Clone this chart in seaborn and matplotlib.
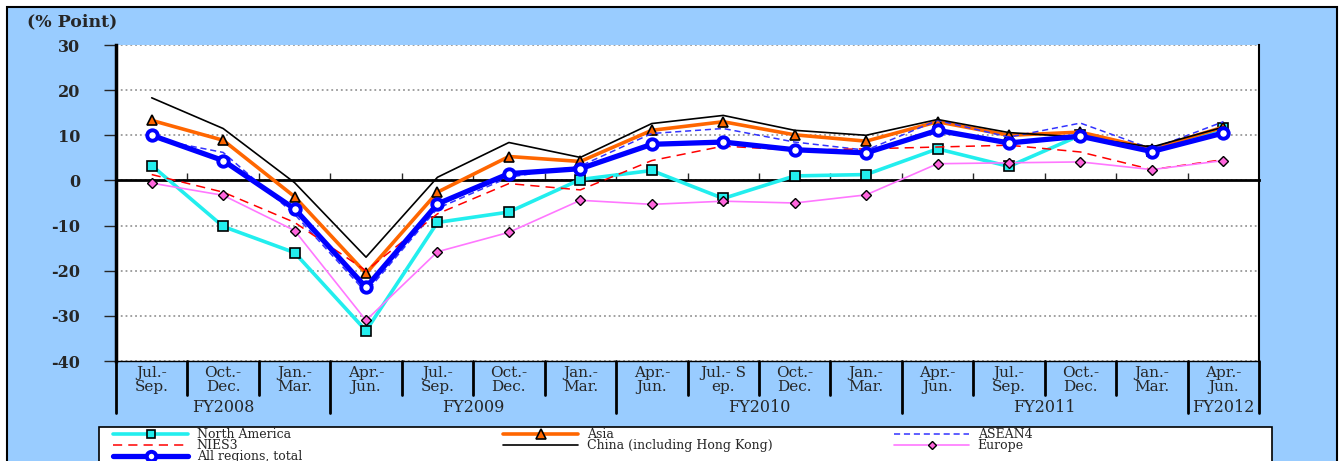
import numpy as np
import matplotlib
matplotlib.use("Agg")
import matplotlib.pyplot as plt
from matplotlib.patches import Rectangle
from matplotlib.transforms import blended_transform_factory
import seaborn as sns

# quarters on the x axis
quarters = ["Jul.-\nSep.", "Oct.-\nDec.", "Jan.-\nMar.", "Apr.-\nJun.",
            "Jul.-\nSep.", "Oct.-\nDec.", "Jan.-\nMar.", "Apr.-\nJun.",
            "Jul.- S\nep.", "Oct.-\nDec.", "Jan.-\nMar.", "Apr.-\nJun.",
            "Jul.-\nSep.", "Oct.-\nDec.", "Jan.-\nMar.", "Apr.-\nJun."]
fiscal_years = ["FY2008", "FY2009", "FY2010", "FY2011", "FY2012"]
fy_spans = [3, 4, 4, 4, 1]

# % point values
north_america = [3.3, -10.2, -16.0, -33.3, -9.3, -7.0, 0.2, 2.2, -4.0, 1.0, 1.3, 7.0, 3.1, 10.0, 6.5, 11.6]
asia = [13.3, 8.9, -3.6, -20.6, -2.6, 5.3, 4.2, 11.1, 13.0, 10.1, 8.7, 13.0, 10.0, 10.7, 7.0, 11.8]
asean4 = [9.3, 6.2, -7.5, -24.8, -6.2, 0.7, 3.2, 10.4, 11.5, 8.5, 6.7, 13.3, 9.6, 12.7, 7.0, 13.0]
nies3 = [1.3, -2.6, -9.3, -20.0, -7.4, -0.7, -2.1, 4.4, 7.6, 6.7, 7.0, 7.4, 7.8, 6.3, 2.4, 4.6]
china = [18.3, 11.5, -0.5, -17.0, 0.7, 8.4, 5.1, 12.6, 14.4, 11.1, 10.0, 13.5, 10.6, 9.6, 7.4, 11.8]
europe = [-0.6, -3.3, -11.1, -31.0, -15.8, -11.5, -4.4, -5.3, -4.6, -5.0, -3.2, 3.7, 3.9, 4.1, 2.4, 4.4]
total = [10.0, 4.4, -6.3, -23.7, -5.2, 1.5, 2.6, 8.0, 8.5, 6.8, 6.1, 11.1, 8.3, 9.8, 6.4, 10.5]

sns.set_style("white")
plt.rcParams["font.family"] = ["DejaVu Serif"]
plt.rcParams["axes.unicode_minus"] = False

W, H = 1341, 461
fig = plt.figure(figsize=(W / 100, H / 100), dpi=100)
fig.patch.set_facecolor("white")
fig.add_artist(Rectangle((7 / W, -0.1), (1337 - 7) / W, 1 - 7 / H + 0.1, transform=fig.transFigure,
                         facecolor="#99CCFF", edgecolor="black", lw=1.5, zorder=-1))

ax = fig.add_axes([116 / W, 1 - 361 / H, (1259 - 116) / W, (361 - 45) / H])
x = np.arange(len(quarters))

sns.lineplot(x=x, y=north_america, ax=ax, color="#22EEEE", lw=2.6, marker="s", ms=6.5,
             mfc="#22EEEE", mec="black", mew=1.2, label="North America", legend=False, zorder=3)
sns.lineplot(x=x, y=asia, ax=ax, color="#FF6600", lw=2.6, marker="^", ms=7.5,
             mfc="#FF6600", mec="black", mew=1.2, label="Asia", legend=False, zorder=3)
sns.lineplot(x=x, y=asean4, ax=ax, color="#3333FF", lw=1.1, linestyle=(0, (4, 2.5)),
             label="ASEAN4", legend=False, zorder=3)
sns.lineplot(x=x, y=nies3, ax=ax, color="#FF0000", lw=1.1, linestyle=(0, (6, 4)),
             label="NIES3", legend=False, zorder=3)
sns.lineplot(x=x, y=china, ax=ax, color="black", lw=1.2,
             label="China (including Hong Kong)", legend=False, zorder=3)
sns.lineplot(x=x, y=europe, ax=ax, color="#FF77FF", lw=1.2, marker="D", ms=5,
             mfc="#FF66DD", mec="black", mew=1, label="Europe", legend=False, zorder=3)
sns.lineplot(x=x, y=total, ax=ax, color="#0000FF", lw=3.8, marker="o", ms=7.5,
             mfc="white", mec="#0000FF", mew=2.8, label="All regions, total", legend=False, zorder=3)

ax.set_xlim(-0.5, len(quarters) - 0.5)
ax.set_ylim(-40, 30)
ax.set_yticks(range(-40, 31, 10))
ax.yaxis.grid(True, linestyle=":", color="#999999", lw=1.3)
ax.set_axisbelow(True)
ax.tick_params(axis="y", direction="out", length=9, width=1, pad=17, labelsize=11.5, left=True)
for lab in ax.get_yticklabels():
    lab.set_fontweight("bold")
ax.set_xticks(np.arange(0.5, len(quarters) - 1, 1))
ax.tick_params(axis="x", direction="in", length=5, width=1, labelbottom=False, bottom=True)
ax.spines["bottom"].set_position(("data", 0))
ax.spines["bottom"].set_linewidth(2)
ax.spines["left"].set_linewidth(2.5)
ax.spines["right"].set_linewidth(1.5)
ax.spines["top"].set_visible(False)
for s in ["left", "right", "bottom"]:
    ax.spines[s].set_color("black")
ax.axhline(-40, color="black", lw=1, clip_on=False)
ax.set_xlabel("")
ax.set_ylabel("")

# category table under the plot
trans = blended_transform_factory(ax.transData, ax.transAxes)
for i, lab in enumerate(quarters):
    ax.text(i, -0.06, lab, transform=trans, ha="center", va="center", fontsize=11, linespacing=1.05)
group_edges = np.cumsum([0] + fy_spans) - 0.5
for b in np.arange(-0.5, len(quarters)):
    low = -0.165 if np.any(np.isclose(group_edges, b)) else -0.108
    ax.plot([b, b], [0, low], transform=trans, color="black", lw=2, clip_on=False)
for name, start, span in zip(fiscal_years, group_edges[:-1], fy_spans):
    ax.text(start + span / 2, -0.147, name, transform=trans, ha="center", va="center", fontsize=11.5)

fig.text(27 / W, 1 - 22 / H, "(% Point)", fontsize=12.5, fontweight="bold", va="center", ha="left")

# legend box
fig.add_artist(Rectangle((99 / W, -0.1), (1272 - 99) / W, 1 - 427 / H + 0.1, transform=fig.transFigure,
                         facecolor="white", edgecolor="black", lw=1.2, zorder=1))
lines = {ln.get_label(): ln for ln in ax.get_lines()}
columns = [["North America", "NIES3", "All regions, total"],
           ["Asia", "China (including Hong Kong)"],
           ["ASEAN4", "Europe"]]
for col, x0 in zip(columns, [113, 503, 894]):
    fig.legend([lines[c] for c in col], col, loc="upper left", bbox_to_anchor=(x0 / W, 1 - 428 / H),
               frameon=False, handlelength=6.0, handletextpad=0.7, borderpad=0, borderaxespad=0,
               labelspacing=-0.15, fontsize=9, markerscale=0.9)

fig.savefig("out.png", dpi=100)
